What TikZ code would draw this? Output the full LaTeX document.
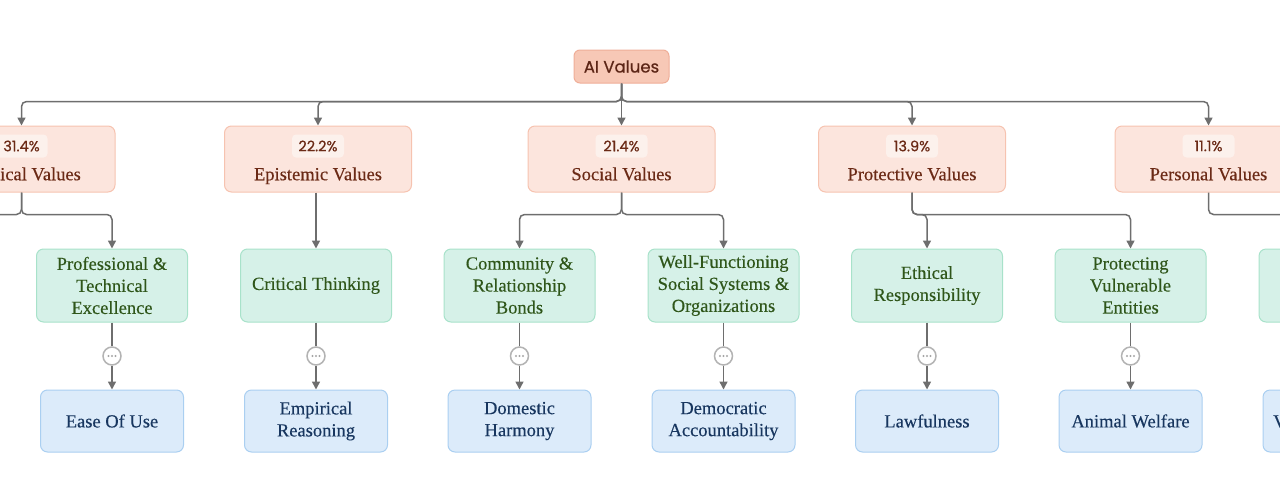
\documentclass[tikz,border=0pt]{standalone}
\usepackage{fontspec}
\setmainfont{Liberation Serif}[FakeBold=0.25]
\newfontfamily\popfont{Poppins}[FakeBold=0.6]
\usetikzlibrary{arrows.meta}
\definecolor{rootF}{HTML}{F7C8B6}
\definecolor{rootB}{HTML}{EFAE98}
\definecolor{rootT}{HTML}{5C2516}
\definecolor{catF}{HTML}{FCE5DD}
\definecolor{catB}{HTML}{F6C3B0}
\definecolor{catT}{HTML}{6B2A16}
\definecolor{badgeF}{HTML}{FCF1EC}
\definecolor{subF}{HTML}{D6F1E8}
\definecolor{subB}{HTML}{A8E2CA}
\definecolor{subT}{HTML}{2F561A}
\definecolor{leafF}{HTML}{DCEBFA}
\definecolor{leafB}{HTML}{AACFF1}
\definecolor{leafT}{HTML}{18365F}
\definecolor{edgeC}{HTML}{6E6E6E}
\definecolor{dotB}{HTML}{B3B3B3}
\definecolor{dotC}{HTML}{A5A5A5}
\tikzset{
  rootbox/.style={draw=rootB, fill=rootF, rounded corners=6pt, line width=1pt,
    minimum width=95pt, minimum height=33pt, inner sep=0pt, text=rootT,
    font=\popfont\fontsize{16.5}{20}\selectfont},
  catbox/.style={draw=catB, fill=catF, rounded corners=7pt, line width=1pt,
    minimum width=187pt, minimum height=66pt, inner sep=0pt},
  badge/.style={fill=badgeF, rounded corners=4pt, minimum width=52pt,
    minimum height=23pt, inner sep=0pt, text=catT,
    font=\popfont\fontsize{14.5}{16}\selectfont},
  catlabel/.style={text=catT, inner sep=0pt, text height=12.5pt, text depth=4pt,
    font=\fontsize{18.5}{22}\selectfont},
  subbox/.style={draw=subB, fill=subF, rounded corners=7pt, line width=1pt,
    minimum width=151pt, minimum height=73pt, inner sep=0pt, align=center,
    text=subT, font=\fontsize{18.5}{22}\selectfont},
  leafbox/.style={draw=leafB, fill=leafF, rounded corners=7pt, line width=1pt,
    minimum width=143pt, minimum height=62pt, inner sep=0pt, align=center,
    text=leafT, font=\fontsize{18.5}{22}\selectfont},
  leaftext/.style={text=leafT, inner sep=0pt, font=\fontsize{18.5}{22}\selectfont},
  dotsnode/.style={circle, draw=dotB, fill=white, line width=1.5pt,
    minimum size=18pt, inner sep=0pt},
  conn/.style={draw=edgeC, line width=1.5pt, rounded corners=5pt,
    -{Triangle[width=8pt,length=8pt]}},
  plain/.style={draw=edgeC, line width=1.5pt},
}
\newcommand{\mydots}[1]{%
  \fill[dotC] ([xshift=-3.5pt]#1.center) circle (1.1pt);
  \fill[dotC] (#1.center) circle (1.1pt);
  \fill[dotC] ([xshift=3.5pt]#1.center) circle (1.1pt);}
\begin{document}
\begin{tikzpicture}[x=1pt,y=-1pt]
\useasboundingbox (0,0) rectangle (1280,496);
\clip (0,0) rectangle (1280,496);

% root
\node[rootbox] (ai) at (621.5,66.5) {AI Values};

% categories
\node[catbox] (prac) at (21.5,159) {};
\node[badge] (pracb) at (21.5,146) {31.4\%};
\node[catlabel] (pracl) at (21.5,176) {Practical Values};

\node[catbox] (epis) at (318,159) {};
\node[badge] (episb) at (318,146) {22.2\%};
\node[catlabel] (episl) at (318,176) {Epistemic Values};

\node[catbox] (soc) at (621.5,159) {};
\node[badge] (socb) at (621.5,146) {21.4\%};
\node[catlabel] (socl) at (621.5,176) {Social Values};

\node[catbox] (prot) at (912,159) {};
\node[badge] (protb) at (912,146) {13.9\%};
\node[catlabel] (protl) at (912,176) {Protective Values};

\node[catbox] (pers) at (1208.5,159) {};
\node[badge] (persb) at (1208.5,146) {11.1\%};
\node[catlabel] (persl) at (1208.5,176) {Personal Values};

% subcategories
\coordinate (offL) at (-92,249);
\node[subbox] (profx) at (112,285.5) {Professional \&\\Technical\\Excellence};
\node[subbox] (crit) at (316,285.5) {Critical Thinking};
\node[subbox] (comm) at (519.5,285.5) {Community \&\\Relationship\\Bonds};
\node[subbox] (well) at (723.5,285.5) {Well-Functioning\\Social Systems \&\\Organizations};
\node[subbox] (eth) at (927,285.5) {Ethical\\Responsibility};
\node[subbox] (protv) at (1130.5,285.5) {Protecting\\Vulnerable\\Entities};
\node[subbox] (nsub) at (1334.5,285.5) {};

% ellipsis circles
\node[dotsnode] (d1) at (112,356) {};
\node[dotsnode] (d2) at (316,356) {};
\node[dotsnode] (d3) at (519.5,356) {};
\node[dotsnode] (d4) at (723.5,356) {};
\node[dotsnode] (d5) at (927,356) {};
\node[dotsnode] (d6) at (1130.5,356) {};
\node[dotsnode] (d7) at (1334.5,356) {};
\mydots{d1}\mydots{d2}\mydots{d3}\mydots{d4}\mydots{d5}\mydots{d6}\mydots{d7}

% leaves
\node[leafbox] (ease) at (112,421) {Ease Of Use};
\node[leafbox] (emp) at (316,421) {Empirical\\Reasoning};
\node[leafbox] (dom) at (519.5,421) {Domestic\\Harmony};
\node[leafbox] (dem) at (723.5,421) {Democratic\\Accountability};
\node[leafbox] (law) at (927,421) {Lawfulness};
\node[leafbox] (anim) at (1130.5,421) {Animal Welfare};
\node[leafbox] (nleaf) at (1334.5,421) {};
\node[leaftext, anchor=west] (vtext) at (1273,421.5) {V};

% root edges
\foreach \c in {prac,epis,soc,prot,pers}
  \draw[conn] (ai.south) -- ++(0,18) -| (\c.north);

% category edges
\draw[conn] (prac.south) -- ++(0,22) -| (profx.north);
\draw[conn] (prac.south) -- ++(0,22) -| (offL);
\draw[conn] (crit.north |- epis.south) -- (crit.north);
\draw[conn] (soc.south) -- ++(0,22) -| (comm.north);
\draw[conn] (soc.south) -- ++(0,22) -| (well.north);
\draw[conn] (prot.south) -- ++(0,22) -| (eth.north);
\draw[conn] (prot.south) -- ++(0,22) -| (protv.north);
\draw[conn] (pers.south) -- ++(0,22) -| (nsub.north);

% sub -> dots -> leaf
\draw[plain] (profx.south) -- (d1.north);
\draw[plain] (crit.south) -- (d2.north);
\draw[plain] (comm.south) -- (d3.north);
\draw[plain] (well.south) -- (d4.north);
\draw[plain] (eth.south) -- (d5.north);
\draw[plain] (protv.south) -- (d6.north);
\draw[plain] (nsub.south) -- (d7.north);
\draw[conn] (d1.south) -- (ease.north);
\draw[conn] (d2.south) -- (emp.north);
\draw[conn] (d3.south) -- (dom.north);
\draw[conn] (d4.south) -- (dem.north);
\draw[conn] (d5.south) -- (law.north);
\draw[conn] (d6.south) -- (anim.north);
\draw[conn] (d7.south) -- (nleaf.north);
\end{tikzpicture}
\end{document}
